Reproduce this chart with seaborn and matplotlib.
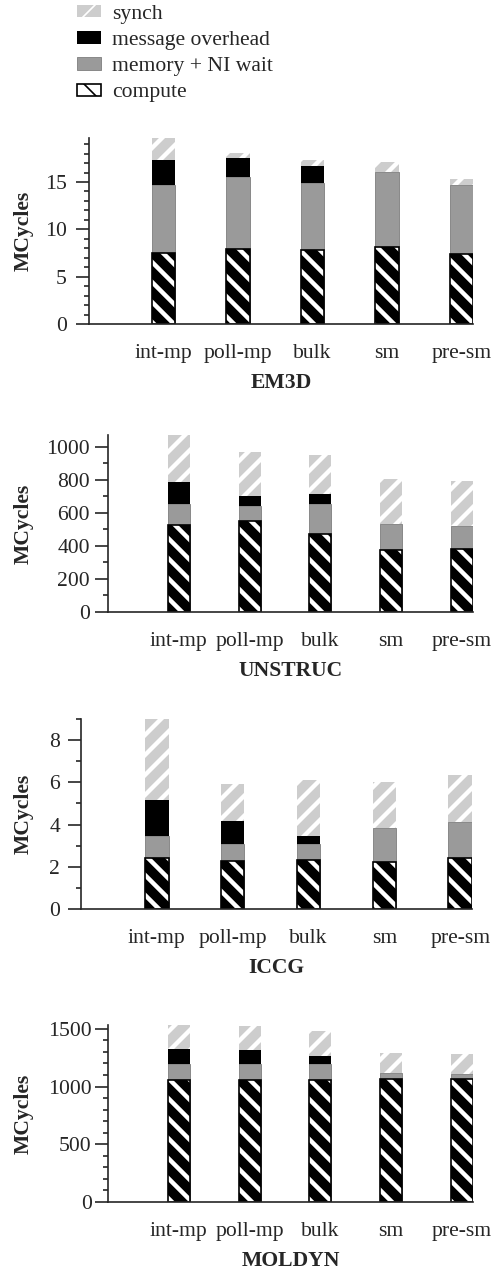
import matplotlib
matplotlib.use("Agg")
import matplotlib.pyplot as plt
import matplotlib.patches as mpatches
from matplotlib.ticker import MultipleLocator
import numpy as np
import seaborn as sns


CATEGORIES = ["int-mp", "poll-mp", "bulk", "sm", "pre-sm"]
SERIES = ["synch", "message overhead", "memory + NI wait", "compute"]

EM3D_COMPUTE = [7.5, 7.9, 7.8, 8.1, 7.4]
EM3D_MEMORY = [7.15, 7.6, 7.05, 8.0, 7.25]
EM3D_MESSAGE = [2.7, 2.0, 1.85, 0, 0]
EM3D_SYNCH = [2.3, 0.6, 0.6, 1.05, 0.7]

UNSTRUC_COMPUTE = [525, 553, 473, 372, 382]
UNSTRUC_MEMORY = [127, 85, 179, 163, 139]
UNSTRUC_MESSAGE = [133, 66, 62, 0, 0]
UNSTRUC_SYNCH = [285, 262, 234, 272, 270]

ICCG_COMPUTE = [2.43, 2.29, 2.34, 2.22, 2.43]
ICCG_MEMORY = [1.03, 0.80, 0.72, 1.61, 1.70]
ICCG_MESSAGE = [1.68, 1.09, 0.40, 0, 0]
ICCG_SYNCH = [3.86, 1.75, 2.66, 2.20, 2.20]

MOLDYN_COMPUTE = [1058, 1058, 1058, 1066, 1066]
MOLDYN_MEMORY = [138, 138, 138, 55, 46]
MOLDYN_MESSAGE = [130, 121, 66, 0, 0]
MOLDYN_SYNCH = [207, 208, 222, 167, 167]

BENCHMARKS = [
    ("EM3D", EM3D_COMPUTE, EM3D_MEMORY, EM3D_MESSAGE, EM3D_SYNCH),
    ("UNSTRUC", UNSTRUC_COMPUTE, UNSTRUC_MEMORY, UNSTRUC_MESSAGE, UNSTRUC_SYNCH),
    ("ICCG", ICCG_COMPUTE, ICCG_MEMORY, ICCG_MESSAGE, ICCG_SYNCH),
    ("MOLDYN", MOLDYN_COMPUTE, MOLDYN_MEMORY, MOLDYN_MESSAGE, MOLDYN_SYNCH),
]

# layout (pixels): left, top, right, bottom of each axes
W, H, DPI = 491, 1270, 120
AXES_PX = [(89, 138, 473, 324), (108, 435, 473, 612), (81, 719, 472, 909), (108, 1025, 473, 1202)]
Y_STEPS = [(5, 1), (200, 100), (2, 1), (500, 100)]
Y_PADS = [5.4, 3.0, 4.8, 2.0]
BAR_WIDTH = 0.31
FONT_SIZE = 13

STYLE = {
    "synch": dict(color="#cdcdcd", edgecolor="white", linewidth=0, hatch="//", hatch_lw=2.6),
    "message overhead": dict(color="black", edgecolor="black", linewidth=0, hatch=None, hatch_lw=None),
    "memory + NI wait": dict(color="#9a9a9a", edgecolor="#8a8a8a", linewidth=0.6, hatch=None, hatch_lw=None),
    "compute": dict(color="white", edgecolor="black", linewidth=1.0, hatch="\\\\", hatch_lw=5.8),
}

sns.set_style("ticks")
plt.rcParams["font.family"] = ["Liberation Serif", "DejaVu Serif"]
plt.rcParams["font.size"] = FONT_SIZE
plt.rcParams["axes.linewidth"] = 1.0


def set_hatch_width(patches, lw):
    if lw is None:
        return
    for p in patches:
        if hasattr(p, "set_hatch_linewidth"):
            p.set_hatch_linewidth(lw)


def draw_panel(ax, name, compute, memory, message, synch, steps, ypad):
    compute = np.array(compute, dtype=float)
    memory = np.array(memory, dtype=float)
    message = np.array(message, dtype=float)
    synch = np.array(synch, dtype=float)
    layers = {
        "synch": compute + memory + message + synch,
        "message overhead": np.where(message > 0, compute + memory + message, 0),
        "memory + NI wait": compute + memory,
        "compute": compute,
    }
    for key in SERIES:
        st = STYLE[key]
        n_before = len(ax.patches)
        sns.barplot(x=CATEGORIES, y=layers[key], ax=ax, color=st["color"], saturation=1,
                    width=BAR_WIDTH, errorbar=None, edgecolor=st["edgecolor"],
                    linewidth=st["linewidth"], hatch=st["hatch"])
        set_hatch_width(ax.patches[n_before:], st["hatch_lw"])

    ax.set_xlim(-1.0, len(CATEGORIES) - 1 + BAR_WIDTH / 2)
    ax.set_ylim(0, layers["synch"].max())
    ax.yaxis.set_major_locator(MultipleLocator(steps[0]))
    ax.yaxis.set_minor_locator(MultipleLocator(steps[1]))
    ax.tick_params(axis="y", which="major", length=7.8, width=1.0, pad=ypad, labelsize=FONT_SIZE)
    ax.tick_params(axis="y", which="minor", length=3, width=1.0)
    ax.tick_params(axis="x", length=0, pad=12.2, labelsize=FONT_SIZE)
    sns.despine(ax=ax)
    ax.set_xlabel(name, fontweight="bold", labelpad=6)
    ax.set_ylabel("MCycles", fontweight="bold")


fig = plt.figure(figsize=(W / DPI, H / DPI), dpi=DPI)
for (name, comp, mem, msg, syn), (l, t, r, b), steps, ypad in zip(BENCHMARKS, AXES_PX, Y_STEPS, Y_PADS):
    ax = fig.add_axes([l / W, 1 - b / H, (r - l) / W, (b - t) / H])
    draw_panel(ax, name, comp, mem, msg, syn, steps, ypad)
    ax.yaxis.set_label_coords((34 - l) / (r - l), 0.5)

handles = []
for key in SERIES:
    st = STYLE[key]
    h = mpatches.Patch(facecolor=st["color"], edgecolor=st["edgecolor"],
                       linewidth=st["linewidth"], hatch=st["hatch"])
    set_hatch_width([h], st["hatch_lw"])
    handles.append(h)
fig.legend(handles, SERIES, loc="upper left", bbox_to_anchor=(77 / W, 1 - 5 / H), frameon=False,
           borderpad=0, borderaxespad=0, handlelength=1.1, handleheight=0.5,
           handletextpad=0.5, labelspacing=0.33, fontsize=FONT_SIZE)

fig.savefig("out.png", dpi=DPI)
